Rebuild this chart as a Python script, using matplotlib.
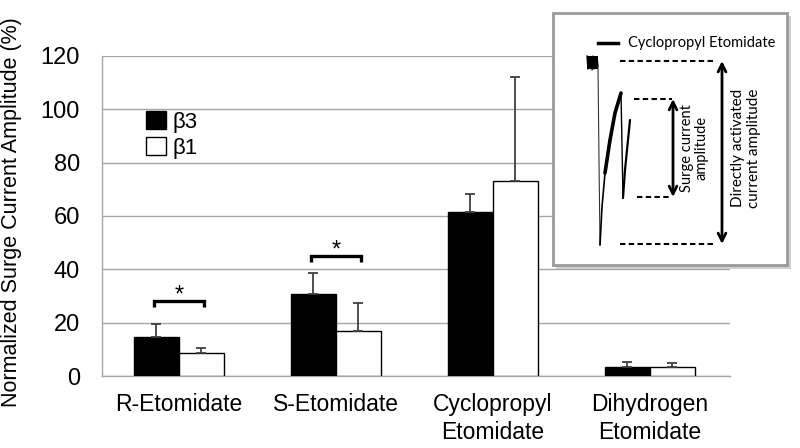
import matplotlib
matplotlib.use("Agg")
import matplotlib.pyplot as plt
import numpy as np
from matplotlib.patches import Rectangle

# ---- data ----
categories = ['R-Etomidate', 'S-Etomidate', 'Cyclopropyl\nEtomidate', 'Dihydrogen\nEtomidate']
b3 = [14.6, 30.7, 61.4, 3.3]
b3_err = [4.9, 7.8, 7.0, 1.8]
b1 = [8.7, 17.0, 73.2, 3.3]
b1_err = [1.9, 10.3, 38.8, 1.6]
yticks = [0, 20, 40, 60, 80, 100, 120]
sig_groups = [0, 1]
sig_bracket_y = [28.2, 45.0]
sig_tick_y = [26.0, 42.7]
sig_star_y = [30.0, 47.0]

plt.rcParams['font.family'] = ['Liberation Sans', 'DejaVu Sans']

W, H = 800, 448
fig = plt.figure(figsize=(8, 4.48), dpi=100)
ax = fig.add_axes([102 / W, (H - 376) / H, 628 / W, 320 / H])

x = np.arange(len(categories))
bw = 0.287
grid_c = '#a6a6a6'
err_c = '#404040'

bars3 = ax.bar(x - bw / 2, b3, bw, color='black', edgecolor='black', linewidth=1, label='β3', zorder=3)
bars1 = ax.bar(x + bw / 2, b1, bw, color='white', edgecolor='black', linewidth=1, label='β1', zorder=3)
ax.errorbar(x - bw / 2, b3, yerr=[np.zeros(len(b3)), b3_err], fmt='none', ecolor=err_c,
            elinewidth=1.3, capsize=3.6, capthick=1.3, zorder=4)
ax.errorbar(x + bw / 2, b1, yerr=[np.zeros(len(b1)), b1_err], fmt='none', ecolor=err_c,
            elinewidth=1.3, capsize=3.6, capthick=1.3, zorder=4)

ax.set_xlim(-0.49, 3.51)
ax.set_ylim(0, 120)
ax.set_yticks(yticks)
ax.set_xticks(x)
ax.set_xticklabels(categories, fontsize=16.5, linespacing=1.3)
ax.tick_params(axis='y', length=0, pad=16, labelsize=17)
ax.tick_params(axis='x', length=0, pad=12)
ax.yaxis.grid(True, color=grid_c, linewidth=1)
ax.set_axisbelow(True)
for s in ['top', 'right']:
    ax.spines[s].set_visible(False)
ax.spines['left'].set_color(grid_c)
ax.spines['bottom'].set_color(grid_c)
ax.spines['left'].set_linewidth(1)
ax.spines['bottom'].set_linewidth(1)

fig.text(12 / W, 1 - 212 / H, 'Normalized Surge Current Amplitude (%)', rotation=90,
         ha='center', va='center', fontsize=15.5)

# significance brackets
for g, yb, yt, ys in zip(sig_groups, sig_bracket_y, sig_tick_y, sig_star_y):
    xl, xr = g - 0.157, g + 0.157
    ax.plot([xl, xl, xr, xr], [yt, yb, yb, yt], color='black', lw=2.4, zorder=5,
            solid_capstyle='butt', solid_joinstyle='miter')
    ax.text(g, ys, '*', ha='center', va='center', fontsize=17, zorder=5)

leg = ax.legend(handles=[bars3, bars1], loc='upper left',
                bbox_to_anchor=(146 / W, 1 - 111 / H), bbox_transform=fig.transFigure,
                frameon=False, fontsize=16, handlelength=0.9, handleheight=0.85,
                handletextpad=0.3, labelspacing=0.2, borderpad=0, borderaxespad=0)

# ---- inset schematic (figure pixel coordinates) ----
ov = fig.add_axes([0, 0, 1, 1], zorder=10)
ov.set_xlim(0, W)
ov.set_ylim(H, 0)
ov.axis('off')
ov.patch.set_alpha(0)

ov.add_patch(Rectangle((556, 16), 235, 253, facecolor='#cfcfcf', edgecolor='none'))
ov.add_patch(Rectangle((553, 13), 234, 252, facecolor='white', edgecolor='#9a9a9a', linewidth=2))

# trace
noise_x = [587, 588, 589, 590, 591, 592, 593, 594, 595, 596, 597, 598]
noise_y = [56, 69, 58, 68, 57, 70, 56, 69, 58, 68, 57, 66]
ov.fill_between([587, 598], [56, 56], [69, 69], color='black', lw=0)
ov.plot(noise_x, noise_y, color='black', lw=1)
ov.plot([598, 599, 600], [66, 160, 245], color='#333333', lw=0.8)
rec_x = [600, 602, 605, 610, 615, 621]
rec_y = [245, 207, 173, 140, 113, 93]
ov.plot(rec_x[:3], rec_y[:3], color='black', lw=1.2, solid_capstyle='round')
ov.plot(rec_x[2:], rec_y[2:], color='black', lw=2.6, solid_capstyle='round')
ov.plot([621, 623], [93, 198], color='black', lw=1.0)
ov.plot([623, 625, 628, 630], [198, 170, 140, 120], color='black', lw=1.6, solid_capstyle='round')

dash_kw = dict(color='black', lw=1.5, dashes=[2.6, 1.6])
ov.plot([620, 713], [61, 61], **dash_kw)
ov.plot([634, 672], [99, 99], **dash_kw)
ov.plot([637, 670], [197, 197], **dash_kw)
ov.plot([620, 713], [244, 244], **dash_kw)

arrow_kw = dict(arrowstyle='<->', color='black', lw=2, mutation_scale=14, shrinkA=0, shrinkB=0)
ov.annotate('', xy=(673, 99), xytext=(673, 197), arrowprops=arrow_kw)
ov.annotate('', xy=(722, 61), xytext=(722, 244), arrowprops=arrow_kw)

ov.plot([598, 618], [43, 43], color='black', lw=2.5)
ov.text(628, 43, 'Cyclopropyl Etomidate', fontsize=10.5, family=['Lato', 'DejaVu Sans'],
        ha='left', va='center')
ov.text(694, 148, 'Surge current\namplitude', fontsize=10.5, family=['Lato', 'DejaVu Sans'],
        rotation=90, ha='center', va='center', linespacing=1.05, multialignment='center')
ov.text(746, 148, 'Directly activated\ncurrent amplitude', fontsize=11, family=['Lato', 'DejaVu Sans'],
        rotation=90, ha='center', va='center', linespacing=1.1, multialignment='center')

fig.savefig('out.png', dpi=100)
